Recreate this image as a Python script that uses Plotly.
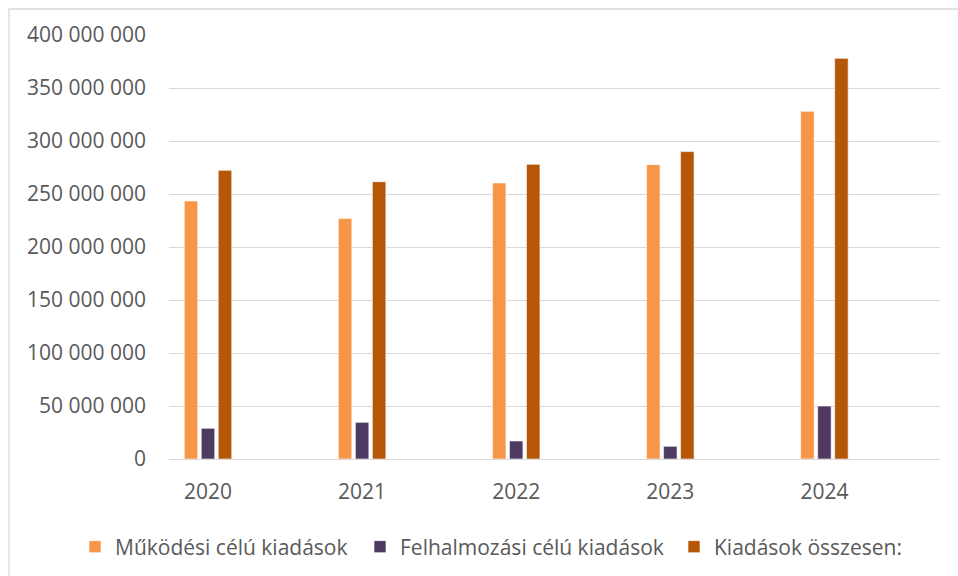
import plotly.graph_objects as go

years = ["2020", "2021", "2022", "2023", "2024"]
mukodesi = [243400000, 227000000, 260400000, 277700000, 328000000]
felhalmozasi = [29000000, 34600000, 17000000, 12000000, 50000000]
osszesen = [272300000, 261600000, 278000000, 290000000, 378000000]

series_names = ["Működési célú kiadások", "Felhalmozási célú kiadások", "Kiadások összesen:"]
series_colors = ["#F79646", "#4F3B62", "#B65708"]

ytick_vals = [0, 50000000, 100000000, 150000000, 200000000, 250000000, 300000000, 350000000, 400000000]
ytick_text = ["0", "50 000 000", "100 000 000", "150 000 000", "200 000 000",
              "250 000 000", "300 000 000", "350 000 000", "400 000 000"]

xpos = list(range(len(years)))
font_family = "Open Sans"
text_color = "#595959"
fs = 21

L, R, T, B = 169, 18, 35, 117
W, H = 958, 576
pw, ph = W - L - R, H - T - B

legend_ids = ["legend", "legend2", "legend3"]
legend_px = [75, 360, 674]

fig = go.Figure()
for name, vals, col, lid in zip(series_names, [mukodesi, felhalmozasi, osszesen], series_colors, legend_ids):
    fig.add_trace(go.Bar(
        x=xpos, y=vals, name=name, legend=lid,
        marker=dict(color=col, line=dict(color="white", width=0.6)),
    ))

legend_layout = {}
for lid, px in zip(legend_ids, legend_px):
    legend_layout[lid] = dict(
        orientation="h", x=(px - L) / pw, xanchor="left",
        y=(H - B - 547) / ph, yanchor="middle",
        font=dict(size=fs, color=text_color), itemclick=False,
        bgcolor="rgba(0,0,0,0)",
    )

fig.update_layout(
    width=W, height=H,
    margin=dict(l=L, r=R, t=T, b=B, autoexpand=False),
    paper_bgcolor="white", plot_bgcolor="white",
    barmode="group", bargap=0.669, bargroupgap=0.206,
    font=dict(family=font_family, size=fs, color=text_color),
    showlegend=True,
    xaxis=dict(
        range=[-0.253, 4.75], tickvals=xpos, ticktext=years,
        showgrid=False, zeroline=False, showline=False,
        ticks="outside", ticklen=14, tickcolor="rgba(0,0,0,0)",
        tickfont=dict(size=fs, color=text_color),
    ),
    yaxis=dict(
        range=[0, 400000000], tickvals=ytick_vals, ticktext=ytick_text,
        showgrid=True, gridcolor="#D9D9D9", gridwidth=1.4,
        zeroline=True, zerolinecolor="#D9D9D9", zerolinewidth=1.4,
        showline=False, ticks="", ticklabelstandoff=22,
        tickfont=dict(size=fs, color=text_color),
    ),
    shapes=[
        dict(type="rect", xref="paper", yref="paper",
             x0=(9 - L) / pw, x1=1.2, y0=-0.5, y1=1 + (T - 9) / ph,
             line=dict(color="#D9D9D9", width=1.3), fillcolor="rgba(0,0,0,0)", layer="below"),
    ],
    **legend_layout,
)

fig.write_html("out.html", config={"displayModeBar": False},
               post_script="document.body.style.margin='0';document.body.style.overflow='hidden';")
